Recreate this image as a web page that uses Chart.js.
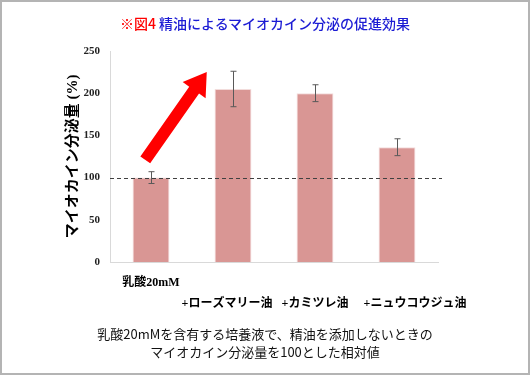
<!DOCTYPE html>
<html>
<head>
<meta charset="utf-8">
<script src="https://cdn.jsdelivr.net/npm/chart.js@4/dist/chart.umd.min.js"></script>
<style>
  html, body { margin: 0; padding: 0; background: #fff; }
  #frame { position: relative; width: 526px; height: 371px; border: 2px solid #b4b4b4; overflow: hidden; }
  #title { position: absolute; left: 0; right: 0; top: 11px; text-align: center; font: 500 14px "Noto Sans CJK JP", sans-serif; color: #1c1cd4; }
  #title span { color: #f00; }
  #note { position: absolute; left: 0; right: 0; top: 323px; text-align: center; font: 13px "Noto Sans CJK JP", sans-serif; color: #111; line-height: 18px; }
  canvas { position: absolute; left: -2px; top: -2px; }
</style>
</head>
<body>
<div id="frame">
  <canvas id="chart" width="530" height="375"></canvas>
  <div id="title"><span>※図4</span> 精油によるマイオカイン分泌の促進効果</div>
  <div id="note">乳酸20mMを含有する培養液で、精油を添加しないときの<br>マイオカイン分泌量を100とした相対値</div>
</div>
<script>
const labels = [['乳酸20mM'], ['', '+ローズマリー油\u3000'], ['', '+カミツレ油'], ['', '\u3000\u3000\u3000+ニュウコウジュ油']];
const values = [100, 205, 200, 136];
const errors = [7, 21, 10, 10];
const yTicks = [0, 50, 100, 150, 200, 250];
const baseline = 100;
// arrow from / to as [category index, value]
const arrowFrom = [-0.07, 121];
const arrowTo = [0.68, 225];

const extras = {
  id: 'extras',
  afterDatasetsDraw(chart) {
    const ctx = chart.ctx;
    const x = chart.scales.x, y = chart.scales.y;
    const area = chart.chartArea;

    // error bars
    ctx.save();
    ctx.strokeStyle = '#595959';
    ctx.lineWidth = 1;
    values.forEach((v, i) => {
      const px = Math.round(x.getPixelForValue(i)) + 0.5;
      const top = y.getPixelForValue(v + errors[i]);
      const bot = y.getPixelForValue(v - errors[i]);
      ctx.beginPath();
      ctx.moveTo(px, top); ctx.lineTo(px, bot);
      ctx.moveTo(px - 3, top); ctx.lineTo(px + 3, top);
      ctx.moveTo(px - 3, bot); ctx.lineTo(px + 3, bot);
      ctx.stroke();
    });

    // dashed reference line
    const by = Math.round(y.getPixelForValue(baseline)) + 0.5;
    ctx.strokeStyle = '#404040';
    ctx.lineWidth = 1.2;
    ctx.setLineDash([4, 3]);
    ctx.beginPath();
    ctx.moveTo(area.left, by); ctx.lineTo(area.right + 4, by);
    ctx.stroke();
    ctx.setLineDash([]);

    // red arrow
    const x0 = x.getPixelForValue(arrowFrom[0]), y0 = y.getPixelForValue(arrowFrom[1]);
    const x1 = x.getPixelForValue(arrowTo[0]), y1 = y.getPixelForValue(arrowTo[1]);
    const len = Math.hypot(x1 - x0, y1 - y0);
    const ux = (x1 - x0) / len, uy = (y1 - y0) / len;
    const nx = -uy, ny = ux;
    const shaft = 6, head = 14, headLen = 22;
    const hx = x1 - ux * headLen, hy = y1 - uy * headLen;
    ctx.fillStyle = '#ff0000';
    ctx.beginPath();
    ctx.moveTo(x0 + nx * shaft, y0 + ny * shaft);
    ctx.lineTo(hx + nx * shaft, hy + ny * shaft);
    ctx.lineTo(hx + nx * head, hy + ny * head);
    ctx.lineTo(x1, y1);
    ctx.lineTo(hx - nx * head, hy - ny * head);
    ctx.lineTo(hx - nx * shaft, hy - ny * shaft);
    ctx.lineTo(x0 - nx * shaft, y0 - ny * shaft);
    ctx.closePath();
    ctx.fill();
    ctx.restore();
  }
};

new Chart(document.getElementById('chart'), {
  type: 'bar',
  data: {
    labels,
    datasets: [{
      data: values,
      backgroundColor: '#d99694',
      borderColor: '#f2dcdb',
      borderWidth: 1,
      barPercentage: 0.45,
      categoryPercentage: 1
    }]
  },
  options: {
    responsive: false,
    animation: false,
    layout: { padding: { left: 64, right: 92, top: 51, bottom: 63 } },
    plugins: { legend: { display: false }, tooltip: { enabled: false } },
    scales: {
      x: {
        grid: { display: false, drawTicks: false },
        border: { color: '#d9d9d9', width: 1 },
        ticks: {
          color: '#000',
          padding: 10,
          maxRotation: 0,
          autoSkip: false,
          font: { family: '"Liberation Serif", "Noto Sans CJK JP", serif', size: 12, weight: 'bold', lineHeight: 1.8 }
        },
        afterFit: s => { s.height = 50; }
      },
      y: {
        min: 0,
        max: 250,
        afterBuildTicks: s => { s.ticks = yTicks.map(v => ({ value: v })); },
        grid: { display: false, drawTicks: true, tickLength: 4, tickColor: '#d9d9d9' },
        border: { color: '#d9d9d9', width: 1 },
        ticks: {
          color: '#222',
          padding: 6,
          font: { family: '"Liberation Serif", serif', size: 11, weight: 'bold' }
        },
        title: {
          display: true,
          text: 'マイオカイン分泌量 (%)',
          color: '#000',
          padding: { top: 0, bottom: 2 },
          font: { family: '"Liberation Serif", "Noto Sans CJK JP", serif', size: 15, weight: 'bold' }
        },
        afterFit: s => { s.width = 46; }
      }
    }
  },
  plugins: [extras]
});
</script>
</body>
</html>
